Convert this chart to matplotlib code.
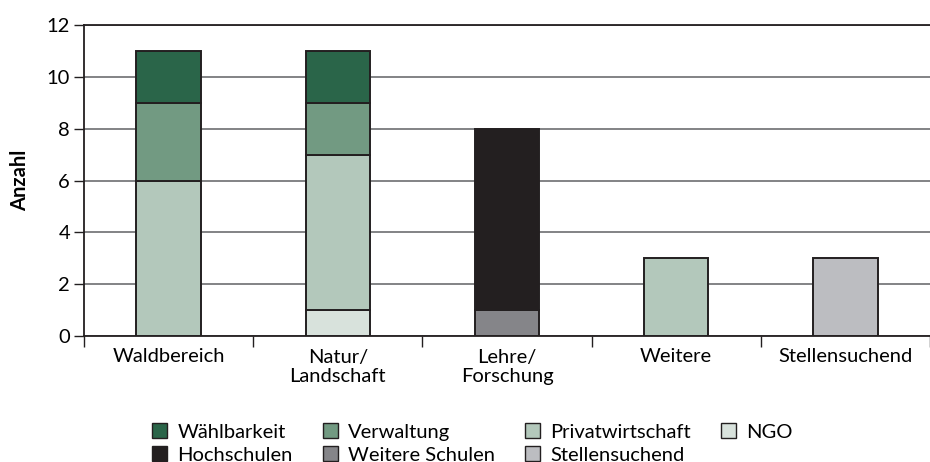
import numpy as np
import matplotlib.pyplot as plt
from matplotlib.patches import Patch

plt.rcParams['font.family'] = ['Lato', 'DejaVu Sans']

# Daten
kategorien = ['Waldbereich', 'Natur/\nLandschaft', 'Lehre/\nForschung', 'Weitere', 'Stellensuchend']
serien = ['NGO', 'Privatwirtschaft', 'Verwaltung', 'Wählbarkeit',
          'Weitere Schulen', 'Hochschulen', 'Stellensuchend']
ngo = [0, 1, 0, 0, 0]
privatwirtschaft = [6, 6, 0, 3, 0]
verwaltung = [3, 2, 0, 0, 0]
waehlbarkeit = [2, 2, 0, 0, 0]
weitere_schulen = [0, 0, 1, 0, 0]
hochschulen = [0, 0, 7, 0, 0]
stellensuchend = [0, 0, 0, 0, 3]
werte = [ngo, privatwirtschaft, verwaltung, waehlbarkeit,
         weitere_schulen, hochschulen, stellensuchend]
farben = {'Wählbarkeit': '#2a6549', 'Verwaltung': '#729a82', 'Privatwirtschaft': '#b3c8bb',
          'NGO': '#d8e2dc', 'Hochschulen': '#231f20', 'Weitere Schulen': '#858589',
          'Stellensuchend': '#bcbdc1'}

fs = 14.5

fig = plt.figure(figsize=(9.3, 4.62), dpi=100)
ax = fig.add_axes([84 / 930, 1 - 336 / 462, 1 - 84 / 930, (336 - 25) / 462])

x = np.arange(len(kategorien))
unten = np.zeros(len(kategorien))
for name, v in zip(serien, werte):
    v = np.array(v, dtype=float)
    maske = v > 0
    ax.bar(x[maske], v[maske], bottom=unten[maske], width=0.38, color=farben[name],
           edgecolor='#231f20', linewidth=1.4, zorder=3)
    unten += v

ax.set_ylim(0, 12)
ax.set_xlim(-0.5, (930 - 84) / 170.7 - 0.5)
ax.set_yticks(range(0, 13, 2))
ax.tick_params(axis='y', labelsize=fs, length=7, width=1, color='#231f20', pad=3)
ax.yaxis.grid(True, color='#6d6e71', linewidth=1.2, zorder=0)
ax.set_axisbelow(True)

# Kategorien zwischen den Ticks
ax.set_xticks(np.arange(len(kategorien) + 1) - 0.5)
ax.set_xticklabels([])
ax.set_xticks(x, minor=True)
ax.set_xticklabels(kategorien, minor=True, fontsize=fs, linespacing=1.15)
ax.tick_params(axis='x', which='major', length=8, width=1, color='#231f20')
ax.tick_params(axis='x', which='minor', length=0, pad=9)

for s in ['left', 'bottom', 'top']:
    ax.spines[s].set_color('#231f20')
    ax.spines[s].set_linewidth(1.3)
ax.spines['right'].set_visible(False)
ax.set_ylabel('Anzahl', fontsize=fs, fontweight='bold', labelpad=12)

reihenfolge = ['Wählbarkeit', 'Hochschulen', 'Verwaltung', 'Weitere Schulen',
               'Privatwirtschaft', 'Stellensuchend', 'NGO']
handles = [Patch(facecolor=farben[n], edgecolor='#231f20', linewidth=1, label=n) for n in reihenfolge]
fig.legend(handles=handles, ncol=4, loc='lower left', bbox_to_anchor=(138 / 930, -0.034),
           frameon=False, fontsize=fs, handlelength=0.75, handleheight=0.75,
           handletextpad=0.5, columnspacing=1.5, labelspacing=0.28, borderpad=0.2)

plt.savefig('out.png', dpi=100)
